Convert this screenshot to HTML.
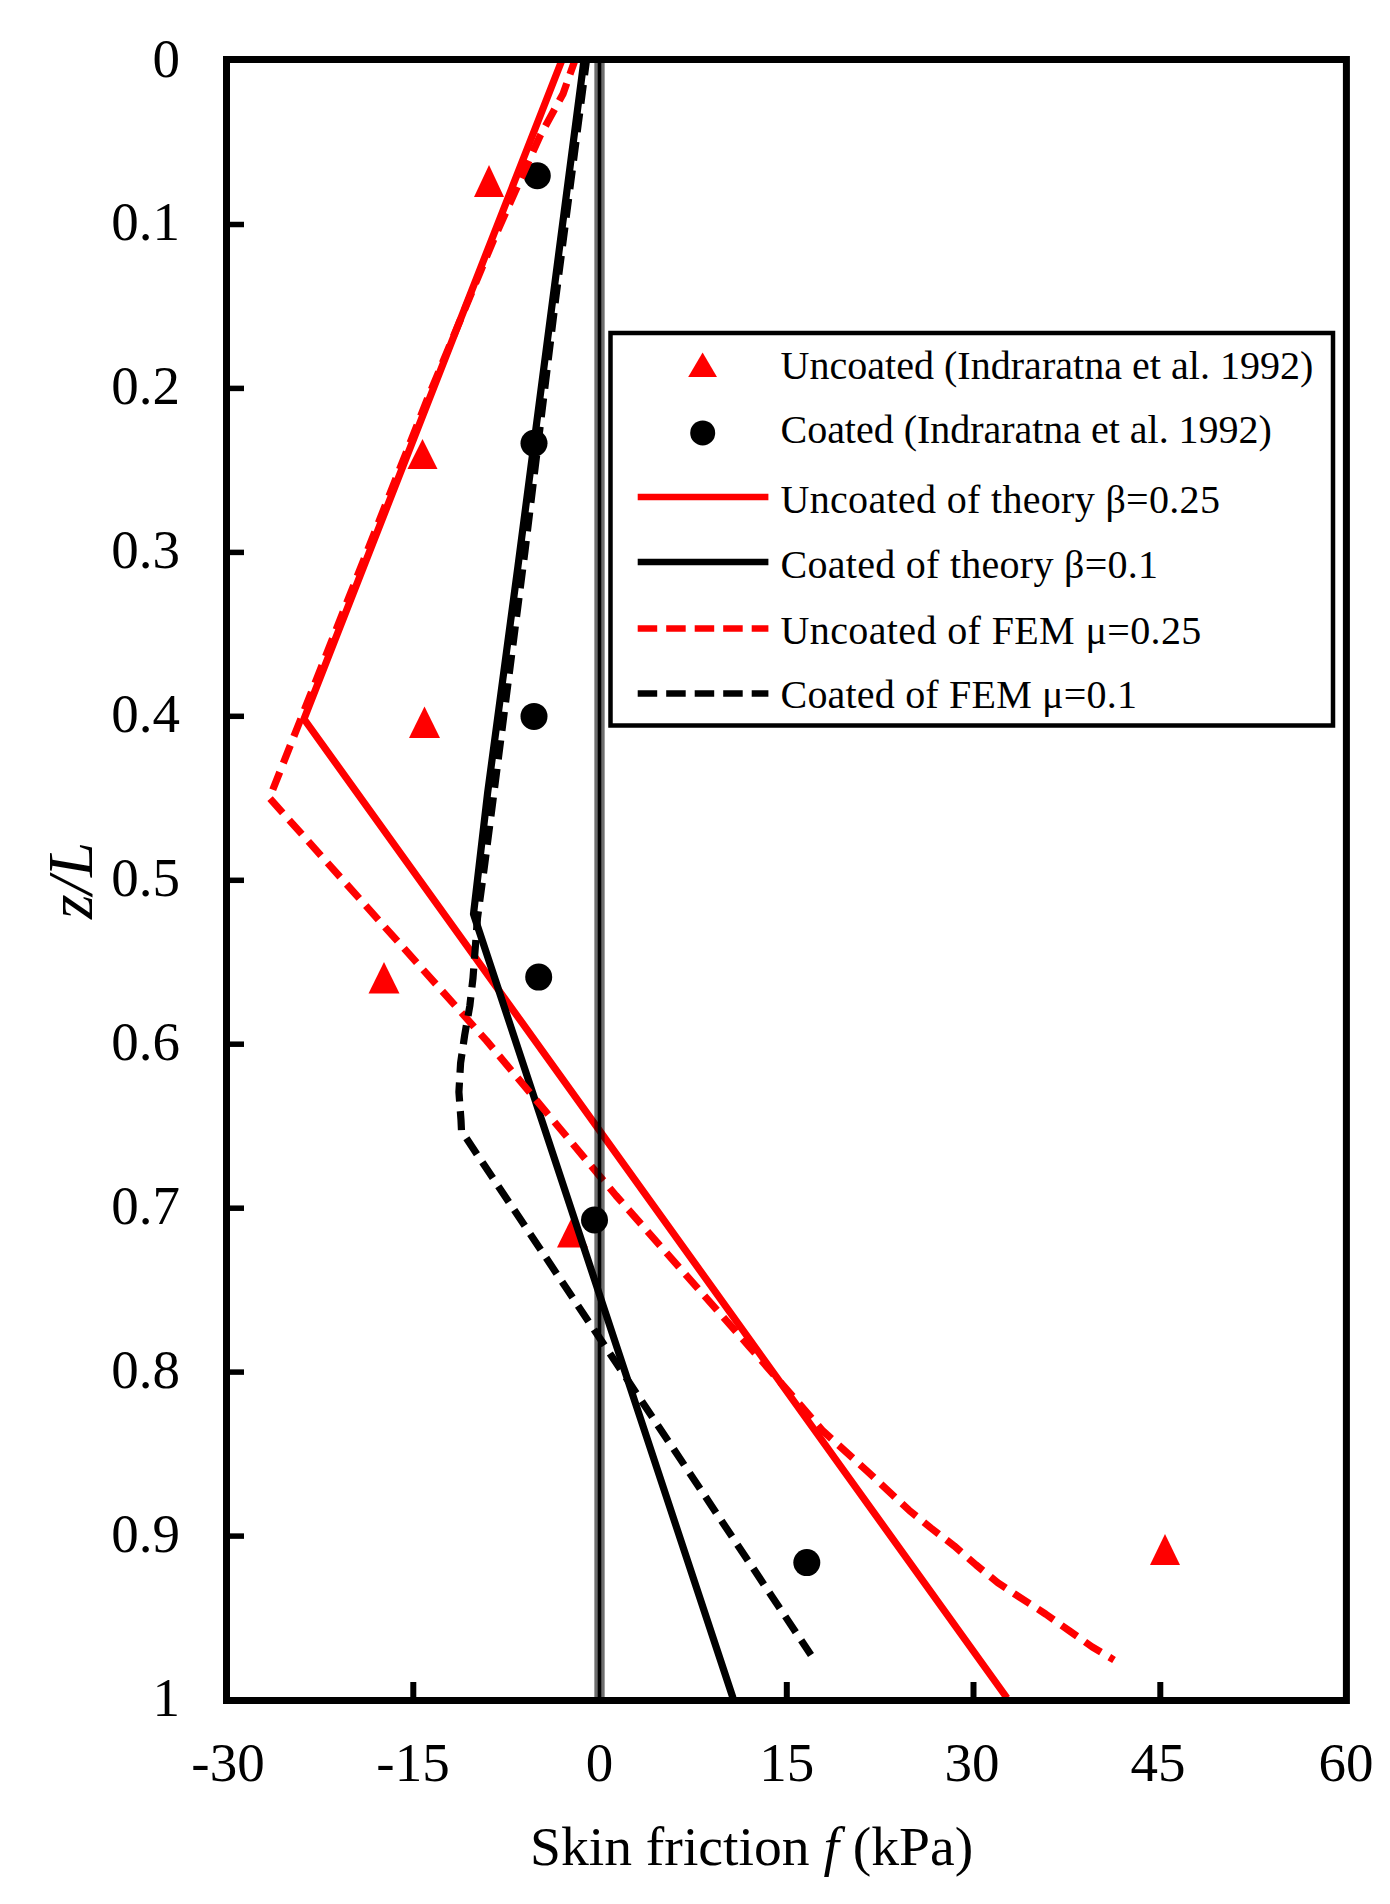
<!DOCTYPE html>
<html>
<head>
<meta charset="utf-8">
<style>
html,body{margin:0;padding:0;background:#fff;}
svg{display:block;}
text{font-family:"Liberation Serif",serif;fill:#000;}
</style>
</head>
<body>
<svg width="1390" height="1904" viewBox="0 0 1390 1904">
<rect x="0" y="0" width="1390" height="1904" fill="#fff"/>
<g>

<!-- markers: uncoated triangles -->
<g fill="#ff0000">
<path d="M489,165 L504,197 L474,197 Z"/>
<path d="M422.5,439 L437.5,469 L407.5,469 Z"/>
<path d="M424.5,706.5 L440,738 L409,738 Z"/>
<path d="M384,962 L399.5,993.5 L368.5,993.5 Z"/>
<path d="M572.5,1216 L588,1247.5 L557,1247.5 Z"/>
<path d="M1165,1534 L1180,1565 L1150,1565 Z"/>
</g>
<!-- markers: coated circles -->
<g fill="#000">
<circle cx="537.3" cy="175.8" r="13.5"/>
<circle cx="534" cy="443.2" r="13.5"/>
<circle cx="534" cy="716.4" r="13.5"/>
<circle cx="538.7" cy="977.1" r="13.5"/>
<circle cx="594.5" cy="1220" r="13.5"/>
<circle cx="806.8" cy="1562.6" r="13.5"/>
</g>


<!-- data lines -->
<g fill="none" stroke-linejoin="round" stroke-width="7.2">
<!-- red solid: uncoated theory -->
<polyline stroke="#ff0000" points="562,60 304,719 1007,1698"/>
<!-- black solid: coated theory -->
<polyline stroke="#000" points="584,60 518,566 487.6,793 473.5,914 733,1698"/>
<!-- red dashed: uncoated FEM -->
<polyline stroke="#ff0000" stroke-dasharray="19 9.71" stroke-dashoffset="3.87" points="575,60 563,94 540,136 493.5,240 427,400 269.5,798 486.3,1040.4 615.9,1195.5 749.6,1347 823,1431 866.6,1470.6 888.5,1491.1 909,1510.2 930.9,1528 954.1,1545.8 976,1564.9 997.8,1582.7 1022.4,1599.1 1045.7,1614.1 1068.9,1630.5 1092.1,1646.9 1114,1660"/>
<!-- black dashed: coated FEM -->
<polyline stroke="#000" stroke-dasharray="19 9.73" stroke-dashoffset="3.77" points="586.5,60 555.5,300 525,551 493,800 485,862 477.5,918 473,978 469.8,1006 464.7,1035 460.6,1063 458.9,1092 461,1120 461.5,1131 811,1655"/>
</g>

<!-- zero line -->
<line x1="599.5" y1="60" x2="599.5" y2="1700" stroke="#000" stroke-opacity="0.57" stroke-width="10.3"/>
<line x1="599.5" y1="60" x2="599.5" y2="1700" stroke="#000" stroke-width="3.6"/>

<!-- frame -->
<rect x="226.5" y="59.5" width="1119.9" height="1641" fill="none" stroke="#000" stroke-width="7"/>
<!-- y ticks -->
<g stroke="#000" stroke-width="5.5">
<line x1="226.5" y1="224.5" x2="244" y2="224.5"/>
<line x1="226.5" y1="388.4" x2="244" y2="388.4"/>
<line x1="226.5" y1="552.4" x2="244" y2="552.4"/>
<line x1="226.5" y1="716.3" x2="244" y2="716.3"/>
<line x1="226.5" y1="880.3" x2="244" y2="880.3"/>
<line x1="226.5" y1="1044.2" x2="244" y2="1044.2"/>
<line x1="226.5" y1="1208.2" x2="244" y2="1208.2"/>
<line x1="226.5" y1="1372.1" x2="244" y2="1372.1"/>
<line x1="226.5" y1="1536.1" x2="244" y2="1536.1"/>
</g>
<!-- x ticks -->
<g stroke="#000" stroke-width="6">
<line x1="413.3" y1="1682" x2="413.3" y2="1700"/>
<line x1="786.8" y1="1682" x2="786.8" y2="1700"/>
<line x1="973.5" y1="1682" x2="973.5" y2="1700"/>
<line x1="1160.3" y1="1682" x2="1160.3" y2="1700"/>
</g>

<!-- y tick labels -->
<g font-size="55" text-anchor="end">
<text x="180" y="77">0</text>
<text x="180" y="240">0.1</text>
<text x="180" y="404">0.2</text>
<text x="180" y="568">0.3</text>
<text x="180" y="732">0.4</text>
<text x="180" y="896">0.5</text>
<text x="180" y="1060">0.6</text>
<text x="180" y="1224">0.7</text>
<text x="180" y="1388">0.8</text>
<text x="180" y="1552">0.9</text>
<text x="180" y="1716">1</text>
</g>
<!-- x tick labels -->
<g font-size="55" text-anchor="middle">
<text x="228" y="1781">-30</text>
<text x="413" y="1781">-15</text>
<text x="599.5" y="1781">0</text>
<text x="786.8" y="1781">15</text>
<text x="972" y="1781">30</text>
<text x="1158" y="1781">45</text>
<text x="1346" y="1781">60</text>
</g>
<!-- axis titles -->
<text x="530" y="1865" font-size="55.6">Skin friction <tspan font-style="italic">f</tspan> (kPa)</text>
<text transform="translate(92,919) rotate(-90)" font-size="63" font-style="italic">z/L</text>

<!-- legend -->
<rect x="610.5" y="333" width="722.5" height="392.5" fill="#fff" stroke="#000" stroke-width="4.5"/>
<path d="M702.6,352.5 L717,377 L688.2,377 Z" fill="#ff0000"/>
<circle cx="702.7" cy="432.9" r="12.5" fill="#000"/>
<line x1="637.7" y1="497" x2="768.4" y2="497" stroke="#ff0000" stroke-width="6.5"/>
<line x1="637.7" y1="562" x2="768.4" y2="562" stroke="#000" stroke-width="6.5"/>
<line x1="637.7" y1="628.5" x2="768.4" y2="628.5" stroke="#ff0000" stroke-width="6.5" stroke-dasharray="19.5 9"/>
<line x1="637.7" y1="693.5" x2="768.4" y2="693.5" stroke="#000" stroke-width="6.5" stroke-dasharray="19.5 9"/>
<g font-size="40">
<text x="780.5" y="379.4" textLength="532.88" lengthAdjust="spacing">Uncoated (Indraratna et al. 1992)</text>
<text x="780.5" y="443.3" textLength="491.32" lengthAdjust="spacing">Coated (Indraratna et al. 1992)</text>
<text x="780.5" y="513.2" textLength="439.39" lengthAdjust="spacing">Uncoated of theory β=0.25</text>
<text x="780.5" y="577.5" textLength="377.52" lengthAdjust="spacing">Coated of theory β=0.1</text>
<text x="780.5" y="644.4" textLength="420.84" lengthAdjust="spacing">Uncoated of FEM μ=0.25</text>
<text x="780.5" y="708.3" textLength="356.38" lengthAdjust="spacing">Coated of FEM μ=0.1</text>
</g>
</g>
</svg>
</body>
</html>
